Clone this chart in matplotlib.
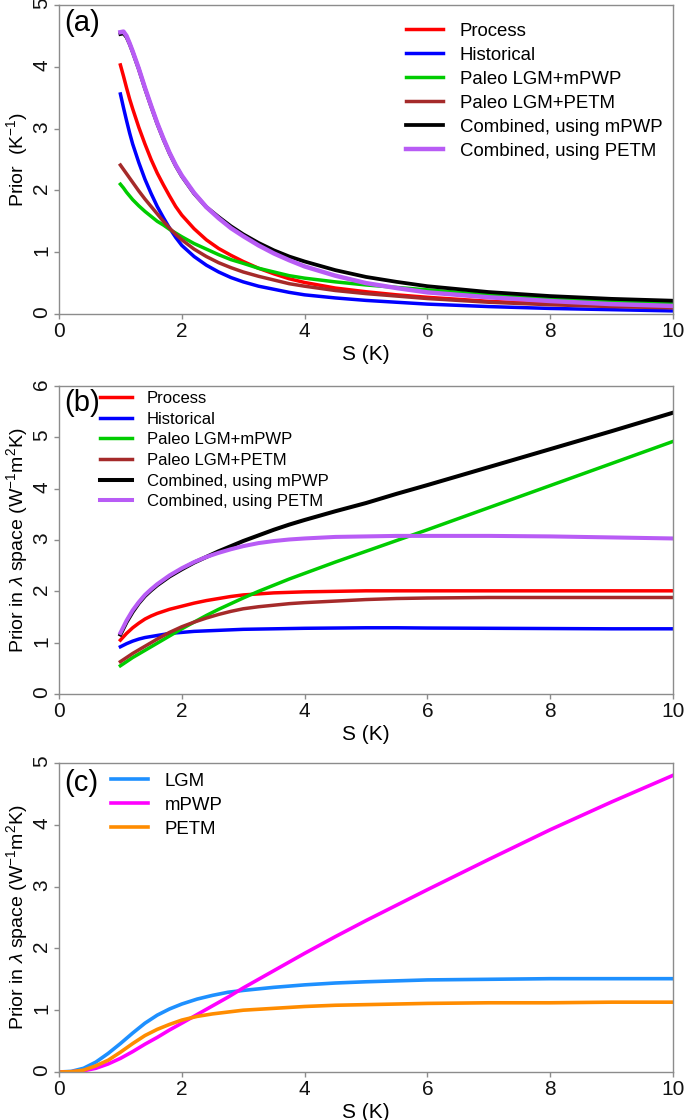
import numpy as np
import matplotlib
matplotlib.use("Agg")
from matplotlib import pyplot as plt

plt.rcParams["font.family"] = ["Liberation Sans", "DejaVu Sans"]
plt.rcParams["mathtext.fontset"] = "custom"
plt.rcParams["mathtext.rm"] = "Liberation Sans"
plt.rcParams["mathtext.it"] = "Liberation Sans:italic"

# ---- panel (a): prior in S space ----
S_a = [1.0, 1.05, 1.1, 1.15, 1.2, 1.3, 1.4, 1.5, 1.6, 1.7, 1.8, 1.9, 2.0, 2.2, 2.4,
       2.6, 2.8, 3.0, 3.25, 3.5, 3.75, 4.0, 4.5, 5.0, 5.5, 6.0, 7.0, 8.0, 9.0, 10.0]
a_process = [4.03, 3.85, 3.66, 3.48, 3.32, 3.02, 2.75, 2.50, 2.28, 2.09, 1.91, 1.74, 1.60, 1.38, 1.20,
             1.06, 0.95, 0.85, 0.74, 0.65, 0.57, 0.51, 0.42, 0.36, 0.31, 0.27, 0.205, 0.165, 0.135, 0.11]
a_hist = [3.56, 3.34, 3.13, 2.93, 2.75, 2.45, 2.18, 1.95, 1.74, 1.56, 1.39, 1.24, 1.11, 0.93, 0.79,
          0.68, 0.59, 0.52, 0.45, 0.40, 0.35, 0.31, 0.26, 0.22, 0.19, 0.16, 0.12, 0.09, 0.07, 0.05]
a_lgm_mpwp = [2.10, 2.04, 1.97, 1.91, 1.85, 1.75, 1.66, 1.58, 1.50, 1.44, 1.37, 1.31, 1.25, 1.14, 1.05,
              0.96, 0.88, 0.82, 0.74, 0.68, 0.62, 0.58, 0.52, 0.47, 0.43, 0.39, 0.31, 0.25, 0.20, 0.17]
a_lgm_petm = [2.41, 2.34, 2.27, 2.20, 2.13, 1.99, 1.86, 1.74, 1.62, 1.50, 1.39, 1.29, 1.20, 1.05, 0.93,
              0.83, 0.75, 0.68, 0.61, 0.55, 0.49, 0.45, 0.38, 0.33, 0.29, 0.25, 0.19, 0.15, 0.12, 0.10]
a_comb_mpwp = [4.53, 4.54, 4.48, 4.37, 4.24, 3.96, 3.65, 3.36, 3.08, 2.83, 2.60, 2.40, 2.23, 1.95, 1.73,
               1.57, 1.42, 1.29, 1.15, 1.03, 0.93, 0.85, 0.71, 0.60, 0.52, 0.45, 0.355, 0.29, 0.245, 0.215]
a_comb_petm = [4.56, 4.57, 4.50, 4.38, 4.25, 3.97, 3.66, 3.37, 3.09, 2.84, 2.61, 2.41, 2.24, 1.96, 1.73,
               1.55, 1.39, 1.26, 1.11, 0.98, 0.87, 0.77, 0.62, 0.50, 0.42, 0.35, 0.27, 0.21, 0.16, 0.13]

# ---- panel (b): prior in lambda space ----
S_b = [1.0, 1.1, 1.2, 1.3, 1.4, 1.5, 1.6, 1.8, 2.0, 2.2, 2.4, 2.6, 2.8, 3.0, 3.25,
       3.5, 3.75, 4.0, 4.5, 5.0, 5.5, 6.0, 7.0, 8.0, 9.0, 10.0]
b_process = [1.05, 1.18, 1.29, 1.38, 1.46, 1.52, 1.57, 1.65, 1.71, 1.77, 1.82, 1.86, 1.90, 1.93, 1.95,
             1.97, 1.98, 1.99, 2.00, 2.01, 2.01, 2.01, 2.01, 2.01, 2.01, 2.01]
b_hist = [0.92, 0.98, 1.03, 1.07, 1.10, 1.12, 1.14, 1.18, 1.20, 1.22, 1.23, 1.24, 1.25, 1.26, 1.265,
          1.27, 1.275, 1.28, 1.285, 1.29, 1.29, 1.285, 1.28, 1.275, 1.27, 1.27]
b_lgm_mpwp = [0.55, 0.63, 0.71, 0.78, 0.85, 0.92, 0.99, 1.13, 1.27, 1.40, 1.53, 1.65, 1.76, 1.87, 2.00,
              2.12, 2.24, 2.35, 2.57, 2.78, 2.99, 3.20, 3.63, 4.06, 4.49, 4.92]
b_lgm_petm = [0.63, 0.71, 0.79, 0.86, 0.93, 1.00, 1.07, 1.20, 1.31, 1.40, 1.48, 1.55, 1.61, 1.66, 1.70,
              1.73, 1.76, 1.78, 1.81, 1.84, 1.86, 1.87, 1.88, 1.88, 1.88, 1.88]
b_comb_mpwp = [1.16, 1.40, 1.60, 1.77, 1.91, 2.02, 2.12, 2.29, 2.43, 2.56, 2.67, 2.78, 2.88, 2.98, 3.09,
               3.20, 3.30, 3.39, 3.56, 3.72, 3.90, 4.07, 4.42, 4.77, 5.12, 5.48]
b_comb_petm = [1.19, 1.43, 1.63, 1.79, 1.93, 2.04, 2.14, 2.31, 2.45, 2.57, 2.67, 2.75, 2.82, 2.88, 2.94,
               2.98, 3.01, 3.03, 3.06, 3.07, 3.08, 3.08, 3.08, 3.07, 3.05, 3.03]

# ---- panel (c): individual paleo periods in lambda space ----
S_c = [0.0, 0.2, 0.4, 0.6, 0.8, 1.0, 1.2, 1.4, 1.6, 1.8, 2.0, 2.25, 2.5, 2.75, 3.0,
       3.5, 4.0, 4.5, 5.0, 6.0, 7.0, 8.0, 9.0, 10.0]
c_lgm = [0.0, 0.01, 0.06, 0.16, 0.30, 0.46, 0.63, 0.79, 0.92, 1.02, 1.10, 1.18, 1.24, 1.29, 1.32,
         1.37, 1.41, 1.44, 1.46, 1.49, 1.50, 1.51, 1.51, 1.51]
c_mpwp = [0.0, 0.003, 0.02, 0.06, 0.13, 0.22, 0.33, 0.45, 0.56, 0.68, 0.79, 0.93, 1.07, 1.21, 1.36,
          1.64, 1.92, 2.19, 2.45, 2.95, 3.44, 3.92, 4.37, 4.80]
c_petm = [0.0, 0.005, 0.03, 0.10, 0.19, 0.32, 0.46, 0.59, 0.69, 0.77, 0.84, 0.90, 0.94, 0.97, 1.00,
          1.03, 1.06, 1.08, 1.09, 1.11, 1.12, 1.12, 1.13, 1.13]

labels_ab = ["Process", "Historical", "Paleo LGM+mPWP", "Paleo LGM+PETM",
             "Combined, using mPWP", "Combined, using PETM"]
colors_ab = ["#ff0000", "#0000ff", "#00cc00", "#a52a2a", "#000000", "#b85cf5"]
labels_c = ["LGM", "mPWP", "PETM"]
colors_c = ["#1e90ff", "#ff00ff", "#ff8c00"]

W, H = 685, 1120
fig = plt.figure(figsize=(W / 100, H / 100), dpi=100)


def make_axes(top_px, bottom_px, left_px=59, right_px=673):
    return fig.add_axes([left_px / W, 1 - bottom_px / H,
                         (right_px - left_px) / W, (bottom_px - top_px) / H])


def style(ax, ymax, ylabel, tag, tag_y):
    ax.set_xlim(0, 10)
    ax.set_ylim(0, ymax)
    ax.set_xticks([0, 2, 4, 6, 8, 10])
    ax.set_yticks(range(0, ymax + 1))
    for sp in ax.spines.values():
        sp.set_color("#8c8c8c")
        sp.set_linewidth(1.0)
    ax.tick_params(direction="out", length=3.5, width=1, color="#8c8c8c",
                   labelsize=15, labelcolor="#111111", pad=2)
    # R-style: y tick labels parallel to the axis
    ax.tick_params(axis="y", labelrotation=90)
    ax.set_xlabel("S (K)", fontsize=15, labelpad=3)
    ax.set_ylabel(ylabel, fontsize=14, labelpad=2)
    ax.text(0.008, tag_y, tag, transform=ax.transAxes, fontsize=21,
            ha="left", va="center")


# (a)
ax = make_axes(5, 314)
series_a = [a_process, a_hist, a_lgm_mpwp, a_lgm_petm, a_comb_mpwp, a_comb_petm]
widths_a = [2.5, 2.5, 2.5, 2.5, 2.7, 3.2]
for y, c, lab, lw in zip(series_a, colors_ab, labels_ab, widths_a):
    ax.plot(S_a, y, color=c, lw=lw, label=lab)
style(ax, 5, r"Prior  (K$^{-1}$)", "(a)", 0.942)
ax.legend(loc="upper left", bbox_to_anchor=(0.565, 0.942), frameon=False,
          fontsize=13.4, handlelength=2.0, handletextpad=0.9, labelspacing=0.37,
          borderpad=0, borderaxespad=0)

# (b)
ax = make_axes(386, 694)
series_b = [b_process, b_hist, b_lgm_mpwp, b_lgm_petm, b_comb_mpwp, b_comb_petm]
widths_b = [2.5, 2.5, 2.5, 2.5, 2.9, 2.9]
for y, c, lab, lw in zip(series_b, colors_ab, labels_ab, widths_b):
    ax.plot(S_b, y, color=c, lw=lw, label=lab)
style(ax, 6, r"Prior in $\lambda$ space (W$^{-1}$m$^{2}$K)", "(b)", 0.945)
ax.legend(loc="upper left", bbox_to_anchor=(0.067, 0.984), frameon=False,
          fontsize=12, handlelength=1.9, handletextpad=0.9, labelspacing=0.34,
          borderpad=0, borderaxespad=0)

# (c)
ax = make_axes(763, 1072)
for y, c, lab in zip([c_lgm, c_mpwp, c_petm], colors_c, labels_c):
    ax.plot(S_c, y, color=c, lw=2.6, label=lab)
style(ax, 5, r"Prior in $\lambda$ space (W$^{-1}$m$^{2}$K)", "(c)", 0.935)
ax.legend(loc="upper left", bbox_to_anchor=(0.085, 0.968), frameon=False,
          fontsize=13.4, handlelength=2.0, handletextpad=0.86, labelspacing=0.37,
          borderpad=0, borderaxespad=0)

fig.savefig("out.png", dpi=100)
